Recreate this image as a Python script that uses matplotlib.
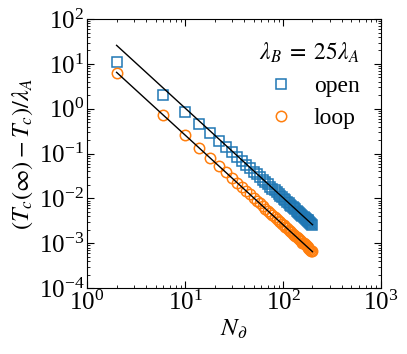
import matplotlib
matplotlib.use("Agg")
import matplotlib.pyplot as plt
from matplotlib.ticker import LogLocator, NullFormatter

plt.rcParams['font.family'] = ['Liberation Serif', 'DejaVu Serif']
plt.rcParams['mathtext.fontset'] = 'stix'

# boundary length
N = [2, 6, 10, 14, 18, 22, 26, 30, 34, 38, 42, 46, 50, 54, 58, 62, 66, 70, 74, 78,
     82, 86, 90, 94, 98, 102, 106, 110, 114, 118, 122, 126, 130, 134, 138, 142, 146,
     150, 154, 158, 162, 166, 170, 174, 178, 182, 186, 190, 194, 198]

open_vals = [10.8, 2.06, 0.844, 0.456, 0.285, 0.195, 0.142, 0.1075, 0.0844, 0.0680,
             0.0560, 0.0469, 0.0398, 0.0343, 0.0298, 0.0261, 0.0231, 0.0206, 0.0184,
             0.0166, 0.0151, 0.0137, 0.0125, 0.0115, 0.0106, 0.00978, 0.00907, 0.00843,
             0.00785, 0.00733, 0.00686, 0.00644, 0.00605, 0.00570, 0.00537, 0.00508,
             0.00481, 0.00456, 0.00432, 0.00411, 0.00391, 0.00372, 0.00355, 0.00339,
             0.00324, 0.00310, 0.00297, 0.00285, 0.00273, 0.00262]

loop_vals = [6.4, 0.722, 0.260, 0.1327, 0.0802, 0.0537, 0.0385, 0.0289, 0.0225, 0.0180,
             0.0147, 0.0123, 0.0104, 0.00892, 0.00773, 0.00676, 0.00597, 0.00531,
             0.00475, 0.00427, 0.00387, 0.00352, 0.00321, 0.00294, 0.00271, 0.00250,
             0.00231, 0.00215, 0.00200, 0.00187, 0.00175, 0.00164, 0.00154, 0.00145,
             0.00137, 0.00129, 0.00122, 0.00116, 0.00110, 0.00104, 0.000991, 0.000944,
             0.000900, 0.000859, 0.000821, 0.000785, 0.000752, 0.000720, 0.000691,
             0.000663]

# power-law fits ~ N^-2
N_fit = [2, 200]
open_fit = [26.0, 0.0026]
loop_fit = [6.5, 0.00065]

fig = plt.figure(figsize=(4.07, 3.54), dpi=100)
ax = fig.add_axes([0.214, 0.186, 0.722, 0.760])

ax.plot(N, open_vals, 's', ms=7.5, mfc='none', mec='#1f77b4', mew=1.1, label='open')
ax.plot(N, loop_vals, 'o', ms=7.5, mfc='none', mec='#ff7f0e', mew=1.1, label='loop')
ax.plot(N_fit, open_fit, 'k-', lw=1)
ax.plot(N_fit, loop_fit, 'k-', lw=1)

ax.set_xscale('log')
ax.set_yscale('log')
ax.set_xlim(1, 1000)
ax.set_ylim(1e-4, 1e2)

for axis in (ax.xaxis, ax.yaxis):
    axis.set_major_locator(LogLocator(base=10, numticks=20))
    axis.set_minor_locator(LogLocator(base=10, subs=range(2, 10), numticks=20))
    axis.set_minor_formatter(NullFormatter())

ax.tick_params(which='both', direction='in', top=True, right=True, labelsize=18, pad=2)
ax.tick_params(which='major', length=5)
ax.tick_params(which='minor', length=2.5)

ax.set_xlabel(r'$N_\partial$', fontsize=18, labelpad=2)
ax.set_ylabel(r'$(T_c(\infty) - T_c)/\lambda_A$', fontsize=17.5, labelpad=3)

leg = ax.legend(title=r'$\lambda_B\;=\;25\lambda_A$', loc='upper right', frameon=False,
                fontsize=17, title_fontsize=17, handletextpad=0.8, labelspacing=0.45,
                handlelength=1.2, alignment='right', borderaxespad=0.5)

fig.savefig('out.png', dpi=100)
